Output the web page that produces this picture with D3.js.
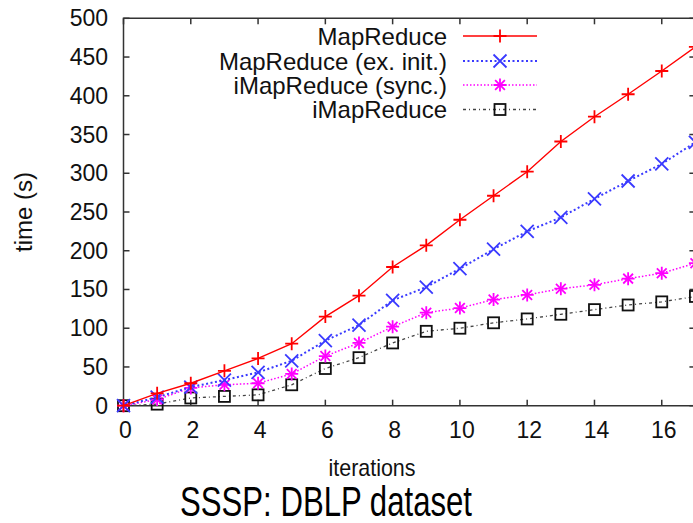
<!DOCTYPE html>
<html><head><meta charset="utf-8">
<script src="https://cdn.jsdelivr.net/npm/d3@7"></script>
<style>body{margin:0;background:#fff}svg{display:block}text{font-family:"Liberation Sans",Arial,sans-serif;fill:#111}</style>
</head><body><svg id="c" width="693" height="523"></svg>
<script>
const iterations = [0,1,2,3,4,5,6,7,8,9,10,11,12,13,14,15,16,17];
const mapReduce      = [0,16,29,45,61,80,115,142,179,207,240,271,302,341,373,402,432,463];
const mapReduceExInit= [0,11,24,33,43,58,84,104,136,153,177,202,225,243,267,290,312,340];
const iMapReduceSync = [0,8,23,27,29,41,64,81,102,120,126,137,143,151,156,164,171,184];
const iMapReduce     = [0,2,10,12,14,27,48,62,81,96,100,107,112,118,124,130,134,141];
const seriesNames = ["MapReduce","MapReduce (ex. init.)","iMapReduce (sync.)","iMapReduce"];
const xTicks = [0,2,4,6,8,10,12,14,16];
const yTicks = [0,50,100,150,200,250,300,350,400,450,500];

const svg = d3.select("#c");
const L=123.5, R=695.4, T=18.3, B=405.7;
const x = d3.scaleLinear().domain([0,17]).range([L,R]);
const y = d3.scaleLinear().domain([0,500]).range([B,T]);

const styles = [
  {color:"#ff0000", dash:null, w:1.4, marker:"plus"},
  {color:"#3a3aff", dash:"2,2.5", w:2, marker:"cross"},
  {color:"#ff00ff", dash:"1.5,2", w:1.5, marker:"star"},
  {color:"#444", dash:"3,3,1,3", w:1.3, marker:"box", mcolor:"#111"}
];
const data = [mapReduce, mapReduceExInit, iMapReduceSync, iMapReduce];

const g = svg.append("g");
g.append("path").attr("d",`M${L},${T}H${R}V${B}H${L}Z`).attr("fill","none").attr("stroke","#333").attr("stroke-width",1.5);
const tl=6;
xTicks.forEach(v=>{
  g.append("line").attr("x1",x(v)).attr("x2",x(v)).attr("y1",B).attr("y2",B-tl).attr("stroke","#333").attr("stroke-width",1.5);
  g.append("line").attr("x1",x(v)).attr("x2",x(v)).attr("y1",T).attr("y2",T+tl).attr("stroke","#333").attr("stroke-width",1.5);
  g.append("text").attr("x",x(v)+2).attr("y",438).attr("text-anchor","middle").attr("font-size",23).text(v);
});
yTicks.forEach(v=>{
  g.append("line").attr("x1",L).attr("x2",L+tl).attr("y1",y(v)).attr("y2",y(v)).attr("stroke","#333").attr("stroke-width",1.5);
  g.append("line").attr("x1",R).attr("x2",R-tl).attr("y1",y(v)).attr("y2",y(v)).attr("stroke","#333").attr("stroke-width",1.5);
  g.append("text").attr("x",108).attr("y",y(v)+8).attr("text-anchor","end").attr("font-size",23).text(v);
});

function marker(sel, type, cx, cy, color){
  const s=6.5;
  const m = sel.append("g").attr("transform",`translate(${cx},${cy})`).attr("stroke",color).attr("stroke-width",1.8).attr("fill","none");
  if(type==="plus"||type==="star"){
    m.append("path").attr("d",`M${-s},0H${s}M0,${-s}V${s}`);
  }
  if(type==="cross"||type==="star"){
    const k = type==="star"? s*0.75 : s;
    m.append("path").attr("d",`M${-k},${-k}L${k},${k}M${-k},${k}L${k},${-k}`);
  }
  if(type==="box"){
    m.append("rect").attr("x",-5.5).attr("y",-5.5).attr("width",11).attr("height",11);
  }
}

const line = d3.line().x((d,i)=>x(iterations[i])).y(d=>y(d));
data.slice().reverse().forEach((arr,ri)=>{
  const i = data.length-1-ri;
  const st = styles[i];
  g.append("path").attr("d",line(arr)).attr("fill","none").attr("stroke",st.color)
    .attr("stroke-width",st.w).attr("stroke-dasharray",st.dash);
  arr.forEach((v,j)=>marker(g, st.marker, x(iterations[j]), y(v), st.mcolor||st.color));
});

const legY=[36,61,85,109.5];
seriesNames.forEach((n,i)=>{
  const st=styles[i];
  g.append("text").attr("x",447).attr("y",legY[i]+8.5).attr("text-anchor","end").attr("font-size",24).text(n);
  g.append("line").attr("x1",463).attr("x2",537).attr("y1",legY[i]).attr("y2",legY[i])
    .attr("stroke",st.color).attr("stroke-width",st.w).attr("stroke-dasharray",st.dash);
  marker(g, st.marker, 500, legY[i], st.mcolor||st.color);
});

svg.append("text").attr("x",372).attr("y",476).attr("text-anchor","middle").attr("font-size",24)
  .attr("textLength",87).attr("lengthAdjust","spacingAndGlyphs").text("iterations");
svg.append("text").attr("transform","translate(32,212) rotate(-90)").attr("text-anchor","middle").attr("font-size",23)
  .attr("textLength",80).attr("lengthAdjust","spacingAndGlyphs").text("time (s)");
svg.append("text").attr("x",326).attr("y",516).attr("text-anchor","middle").attr("font-size",42)
  .attr("textLength",292).attr("lengthAdjust","spacingAndGlyphs").style("fill","#000").text("SSSP: DBLP dataset");
</script></body></html>
